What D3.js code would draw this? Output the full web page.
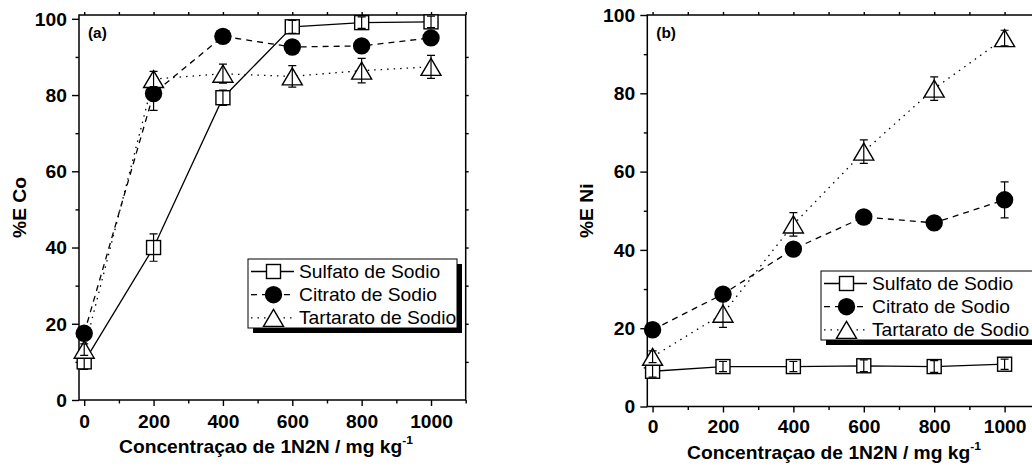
<!DOCTYPE html>
<html>
<head>
<meta charset="utf-8">
<script src="https://cdn.jsdelivr.net/npm/d3@7"></script>
<style>
  body { margin: 0; background: #fff; }
  text { font-family: "Liberation Sans", Arial, sans-serif; fill: #000; }
</style>
</head>
<body>
<svg id="chart" width="1032" height="466"></svg>
<script>
// data
var conc = [0, 200, 400, 600, 800, 1000];
var xTicks = [0, 200, 400, 600, 800, 1000];
var yTicks = [0, 20, 40, 60, 80, 100];
var seriesNames = ["Sulfato de Sodio", "Citrato de Sodio", "Tartarato de Sodio"];

var coSulfato = [10.0, 40.0, 79.3, 97.9, 99.0, 99.2];
var coSulfatoErr = [2.0, 3.6, 2.0, 1.7, 1.5, 1.5];
var coCitrato = [17.5, 80.4, 95.4, 92.6, 92.9, 95.0];
var coCitratoErr = [1.0, 4.4, 1.0, 1.0, 1.0, 1.0];
var coTartarato = [13.2, 84.2, 85.6, 84.9, 86.4, 87.4];
var coTartaratoErr = [1.5, 2.0, 2.5, 2.8, 3.2, 3.0];

var niSulfato = [9.0, 10.2, 10.2, 10.4, 10.2, 10.8];
var niSulfatoErr = [1.5, 1.3, 1.3, 1.5, 1.5, 1.3];
var niCitrato = [19.6, 28.7, 40.2, 48.4, 46.9, 52.8];
var niCitratoErr = [1.0, 1.0, 1.0, 1.0, 1.0, 4.6];
var niTartarato = [12.7, 23.7, 46.5, 65.1, 81.2, 94.1];
var niTartaratoErr = [1.5, 3.5, 3.0, 3.0, 3.0, 2.0];

var svg = d3.select("#chart");
var SX = 1.1; // the original font runs wider than Liberation Sans
var FS = 17.5;

var styles = [
  { dash: null, marker: "square" },
  { dash: "6,5", marker: "circle" },
  { dash: "1.5,5", marker: "triangle" }
];

function drawMarker(g, type, x, y) {
  if (type == "square") {
    g.append("rect").attr("x", x - 7).attr("y", y - 7).attr("width", 14).attr("height", 14)
      .attr("fill", "#fff").attr("stroke", "#000").attr("stroke-width", 1.4);
  } else if (type == "circle") {
    g.append("circle").attr("cx", x).attr("cy", y).attr("r", 8.7).attr("fill", "#000");
  } else {
    g.append("path").attr("d", `M${x},${y - 8.5}L${x + 10},${y + 8.5}L${x - 10},${y + 8.5}Z`)
      .attr("fill", "#fff").attr("stroke", "#000").attr("stroke-width", 1.4).attr("stroke-linejoin", "miter");
  }
}

function panel(opt) {
  var x = d3.scaleLinear().domain([-15, 1100]).range([opt.left, opt.right]);
  var y = d3.scaleLinear().domain(opt.yDomain).range([opt.bottom, opt.top]);
  var g = svg.append("g");

  // frame
  g.append("rect").attr("x", opt.left).attr("y", opt.top)
    .attr("width", opt.right - opt.left).attr("height", opt.bottom - opt.top)
    .attr("fill", "none").attr("stroke", "#000").attr("stroke-width", 1.5);

  // axes
  var xAxis = g.append("g").attr("transform", `translate(0,${opt.bottom})`)
    .call(d3.axisBottom(x).tickValues(xTicks).tickSize(6).tickPadding(opt.xPad).tickFormat(d3.format("d")));
  g.append("g").attr("transform", `translate(0,${opt.bottom})`)
    .call(d3.axisBottom(x).tickValues([100, 300, 500, 700, 900, 1100]).tickSize(3.5).tickFormat(""));
  g.append("g").attr("transform", `translate(0,${opt.top})`)
    .call(d3.axisTop(x).tickValues(d3.range(0, 1101, 100)).tickSize(3).tickFormat(""));
  var yAxis = g.append("g").attr("transform", `translate(${opt.left},0)`)
    .call(d3.axisLeft(y).tickValues(yTicks).tickSize(7).tickPadding(4).tickFormat(d3.format("d")));
  g.append("g").attr("transform", `translate(${opt.left},0)`)
    .call(d3.axisLeft(y).tickValues([10, 30, 50, 70, 90]).tickSize(3.5).tickFormat(""));
  g.append("g").attr("transform", `translate(${opt.right},0)`)
    .call(d3.axisRight(y).tickValues(d3.range(10, 100, 10)).tickSize(3).tickFormat(""));

  g.selectAll(".domain").remove();
  g.selectAll(".tick line").attr("stroke", "#000").attr("stroke-width", 1.4);
  xAxis.selectAll("text").attr("font-size", FS).attr("font-weight", "bold")
    .attr("transform", `scale(${SX},1)`);
  yAxis.selectAll("text").attr("font-size", FS).attr("font-weight", "bold")
    .attr("transform", `scale(${SX},1)`).attr("dy", "0.36em");

  // axis titles
  var xt = g.append("text").attr("transform", `translate(${opt.xTitleX},${opt.xTitleY}) scale(${SX},1)`)
    .attr("text-anchor", "middle").attr("font-size", FS).attr("font-weight", "bold");
  xt.append("tspan").text("Concentraçao de 1N2N / mg kg");
  xt.append("tspan").attr("font-size", 11).attr("dy", -9).text("-1");
  g.append("text").attr("transform", `translate(${opt.yTitleX},${(opt.top + opt.bottom) / 2}) rotate(-90) scale(${SX},1)`)
    .attr("text-anchor", "middle").attr("font-size", FS).attr("font-weight", "bold").text(opt.yTitle);

  g.append("text").attr("transform", `translate(${opt.left + 9},${opt.top + 23}) scale(${SX},1)`)
    .attr("font-size", 14).attr("font-weight", "bold").text(opt.tag);

  // series lines
  var line = d3.line().x((d, i) => x(conc[i])).y(d => y(d));
  opt.series.forEach(function (s, k) {
    g.append("path").attr("d", line(s.values)).attr("fill", "none").attr("stroke", "#000")
      .attr("stroke-width", 1.3).attr("stroke-dasharray", styles[k].dash);
  });
  // markers and error bars
  opt.series.forEach(function (s, k) {
    var mg = g.append("g");
    s.values.forEach(function (v, i) {
      drawMarker(mg, styles[k].marker, x(conc[i]), y(v));
    });
    s.values.forEach(function (v, i) {
      var cx = x(conc[i]), lo = y(v - s.err[i]), hi = y(v + s.err[i]);
      mg.append("path").attr("d", `M${cx},${lo}V${hi}M${cx - 4},${lo}H${cx + 4}M${cx - 4},${hi}H${cx + 4}`)
        .attr("stroke", "#000").attr("stroke-width", 1.2).attr("fill", "none");
    });
  });

  // legend
  var L = opt.legend;
  var lg = g.append("g");
  lg.append("rect").attr("x", L.x + 5).attr("y", L.y + 5).attr("width", L.w).attr("height", L.h).attr("fill", "#000");
  lg.append("rect").attr("x", L.x).attr("y", L.y).attr("width", L.w).attr("height", L.h)
    .attr("fill", "#fff").attr("stroke", "#000").attr("stroke-width", 1);
  seriesNames.forEach(function (name, k) {
    var ry = L.y + 12.5 + k * 23.2;
    lg.append("line").attr("x1", L.x + 3).attr("x2", L.x + 46).attr("y1", ry).attr("y2", ry)
      .attr("stroke", "#000").attr("stroke-width", 1.3).attr("stroke-dasharray", styles[k].dash);
    drawMarker(lg, styles[k].marker, L.x + 25.5, ry);
    lg.append("text").attr("transform", `translate(${L.x + 51},${ry + 6.5}) scale(${SX},1)`)
      .attr("font-size", FS).text(name);
  });
}

panel({
  left: 79, right: 465.7, top: 15, bottom: 400, yDomain: [0, 101], xPad: 10,
  xTitleX: 266, xTitleY: 453, yTitleX: 26, yTitle: "%E Co", tag: "(a)",
  series: [
    { values: coSulfato, err: coSulfatoErr },
    { values: coCitrato, err: coCitratoErr },
    { values: coTartarato, err: coTartaratoErr }
  ],
  legend: { x: 248, y: 259, w: 209, h: 69 }
});

panel({
  left: 647.3, right: 1039.8, top: 15, bottom: 406.5, yDomain: [0, 100], xPad: 8,
  xTitleX: 834, xTitleY: 459, yTitleX: 593, yTitle: "%E Ni", tag: "(b)",
  series: [
    { values: niSulfato, err: niSulfatoErr },
    { values: niCitrato, err: niCitratoErr },
    { values: niTartarato, err: niTartaratoErr }
  ],
  legend: { x: 821, y: 271, w: 215, h: 69 }
});
</script>
</body>
</html>
